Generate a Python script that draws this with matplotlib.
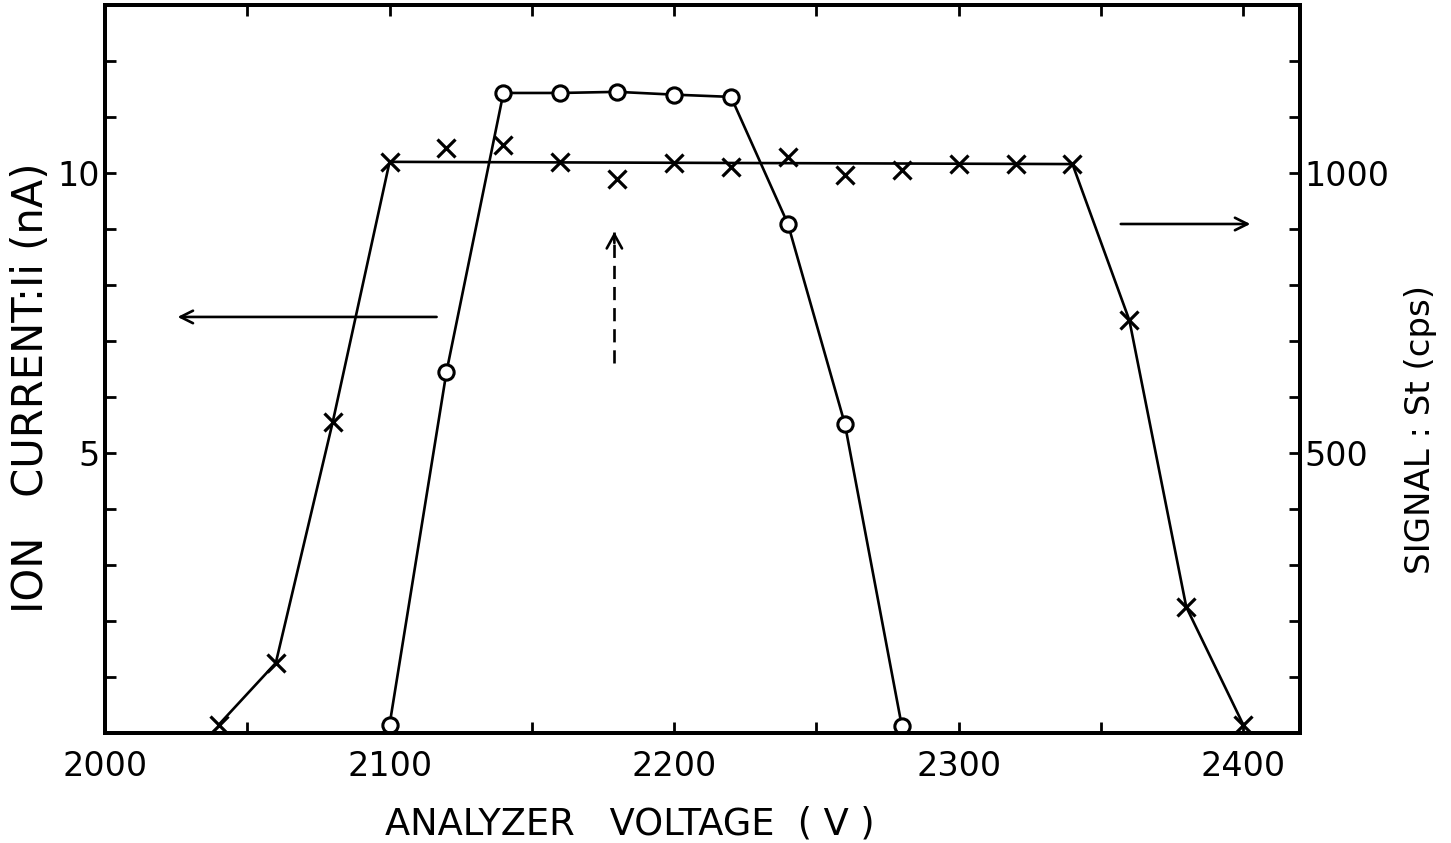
import numpy as np
import matplotlib.pyplot as plt

# crosses: ion current Ii (nA)
volt_x = [2040, 2060, 2080, 2100, 2120, 2140, 2160, 2180, 2200, 2220,
          2240, 2260, 2280, 2300, 2320, 2340, 2360, 2380, 2400]
ion_x = [0.15, 1.25, 5.55, 10.2, 10.45, 10.5, 10.2, 9.9, 10.18, 10.1,
         10.29, 9.96, 10.05, 10.17, 10.17, 10.16, 7.37, 2.25, 0.15]
# hand-drawn line through the crosses (plateau drawn straight)
line_v = [2040, 2060, 2080, 2100, 2340, 2360, 2380, 2400]
line_i = [0.15, 1.25, 5.55, 10.2, 10.16, 7.37, 2.25, 0.15]

# circles: signal St (cps)
volt_o = [2100, 2120, 2140, 2160, 2180, 2200, 2220, 2240, 2260, 2280]
sig_o = [15, 645, 1143, 1143, 1145, 1140, 1136, 909, 552, 13]

fig = plt.figure(figsize=(14.51, 8.43), dpi=100)
ax = fig.add_axes([0.0724, 0.1305, 0.8236, 0.8635])
ax2 = ax.twinx()

ax.set_xlim(2000, 2420)
ax.set_ylim(0, 13)
ax2.set_ylim(0, 1300)

ax.plot(line_v, line_i, color='black', lw=1.9)
ax.plot(volt_x, ion_x, ls='none', marker='x', ms=13, mew=2.3, color='black')
ax2.plot(volt_o, sig_o, color='black', lw=1.9, marker='o', ms=11,
         mfc='white', mew=2.2)

# arrows
arr = dict(arrowstyle='->,head_length=0.9,head_width=0.45', lw=1.9, color='black')
ax.annotate('', xy=(2024.5, 7.43), xytext=(2117.5, 7.43), arrowprops=arr)
ax.annotate('', xy=(2403.5, 9.09), xytext=(2356, 9.09), arrowprops=arr)
# dashed arrow: dashed shaft plus solid head
ax.plot([2179, 2179], [6.6, 8.95], color='black', lw=1.9, ls=(0, (5, 3)))
ax.annotate('', xy=(2179, 9.0), xytext=(2179, 8.7),
            arrowprops=dict(arrowstyle='->,head_length=1.0,head_width=0.55',
                            lw=1.9, color='black'))

# ticks
ax.set_xticks(np.arange(2000, 2401, 100))
ax.set_xticks(np.arange(2050, 2420, 100), minor=True)
ax.set_yticks([5, 10])
ax.set_yticks(np.arange(1, 13), minor=True)
ax2.set_yticks([500, 1000])
ax2.set_yticks(np.arange(100, 1300, 100), minor=True)

for a in (ax, ax2):
    a.tick_params(which='both', direction='in', length=8, width=2,
                  labelsize=24, top=True)
    for s in a.spines.values():
        s.set_linewidth(2.8)
ax.tick_params(axis='x', pad=12)
ax.tick_params(axis='y', pad=4)
ax2.tick_params(axis='y', pad=3)
ax2.tick_params(which='both', top=False)

fig.text(0.434, 0.022, 'ANALYZER   VOLTAGE  ( V )', fontsize=26.5,
         ha='center', va='center')
fig.text(0.0214, 0.54, 'ION   CURRENT:Ii (nA)', fontsize=30, rotation=90,
         ha='center', va='center')
fig.text(0.979, 0.49, 'SIGNAL : St (cps)', fontsize=24.5, rotation=90,
         ha='center', va='center')

fig.savefig('out.png', dpi=100)
